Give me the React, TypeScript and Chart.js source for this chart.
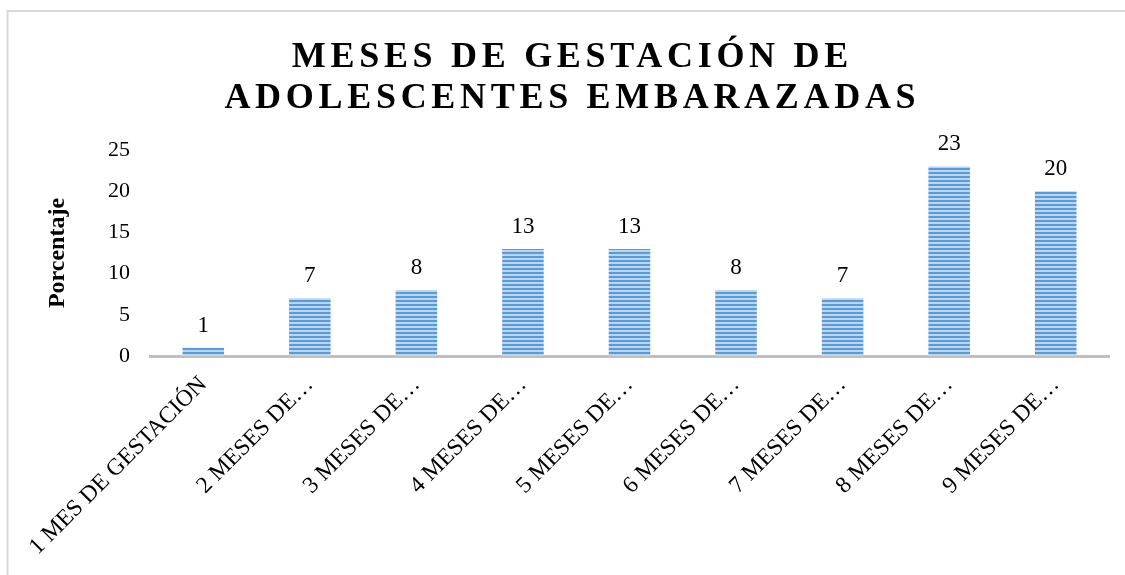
import React, { useEffect, useRef } from "react";
import { Chart, registerables } from "chart.js";

Chart.register(...registerables);

const categories: string[] = [
  "1 MES DE GESTACIÓN",
  "2 MESES DE…",
  "3 MESES DE…",
  "4 MESES DE…",
  "5 MESES DE…",
  "6 MESES DE…",
  "7 MESES DE…",
  "8 MESES DE…",
  "9 MESES DE…",
];
const percentages: number[] = [1, 7, 8, 13, 13, 8, 7, 23, 20];
const titleLines: string[] = ["MESES DE GESTACIÓN DE", "ADOLESCENTES EMBARAZADAS"];
const yAxisTitle = "Porcentaje";
const yMax = 25;
const yStep = 5;

const SERIF = '"Liberation Serif", "Times New Roman", serif';

function makeStripePattern(ctx: CanvasRenderingContext2D): CanvasPattern | string {
  const c = document.createElement("canvas");
  c.width = 4;
  c.height = 4;
  const p = c.getContext("2d");
  if (!p) return "#5b9bd5";
  p.fillStyle = "#bcd5ef";
  p.fillRect(0, 0, 4, 4);
  p.fillStyle = "#5b9bd5";
  p.fillRect(0, 0, 4, 2);
  return ctx.createPattern(c, "repeat") || "#5b9bd5";
}

const framePlugin = {
  id: "frame",
  beforeDraw(chart: any) {
    const ctx = chart.ctx as CanvasRenderingContext2D;
    ctx.save();
    ctx.fillStyle = "#ffffff";
    ctx.fillRect(0, 0, chart.width, chart.height);
    ctx.strokeStyle = "#d9d9d9";
    ctx.lineWidth = 2;
    ctx.beginPath();
    ctx.moveTo(7.5, chart.height);
    ctx.lineTo(7.5, 11);
    ctx.lineTo(chart.width, 11);
    ctx.stroke();
    ctx.restore();
  },
};

const titlePlugin = {
  id: "spacedTitle",
  afterDraw(chart: any) {
    const ctx = chart.ctx as CanvasRenderingContext2D;
    ctx.save();
    ctx.fillStyle = "#000000";
    ctx.font = `bold 36px ${SERIF}`;
    const spacing = 4.7;
    (ctx as any).letterSpacing = `${spacing}px`;
    ctx.textAlign = "center";
    ctx.textBaseline = "alphabetic";
    const cx = 570 + spacing / 2;
    const baselines = [67, 108];
    titleLines.forEach((line, i) => {
      ctx.fillText(line, cx, baselines[i]);
    });
    ctx.restore();
  },
};

const valueLabelPlugin = {
  id: "valueLabels",
  afterDatasetsDraw(chart: any) {
    const ctx = chart.ctx as CanvasRenderingContext2D;
    const meta = chart.getDatasetMeta(0);
    ctx.save();
    ctx.fillStyle = "#000000";
    ctx.font = `23px ${SERIF}`;
    ctx.textAlign = "center";
    ctx.textBaseline = "alphabetic";
    meta.data.forEach((bar: any, i: number) => {
      const v = chart.data.datasets[0].data[i];
      ctx.fillText(String(v), bar.x, bar.y - 16);
    });
    ctx.restore();
  },
};

export default function App() {
  const ref = useRef<HTMLCanvasElement | null>(null);

  useEffect(() => {
    const canvas = ref.current;
    if (!canvas) return;
    const ctx = canvas.getContext("2d");
    if (!ctx) return;
    const pattern = makeStripePattern(ctx);

    const chart = new Chart(canvas, {
      type: "bar",
      data: {
        labels: categories,
        datasets: [
          {
            data: percentages,
            backgroundColor: pattern as any,
            borderWidth: 0,
            categoryPercentage: 1,
            barPercentage: 0.39,
          },
        ],
      },
      options: {
        responsive: false,
        animation: false,
        layout: { padding: { top: 150, right: 16, left: 0, bottom: 0 } },
        plugins: {
          legend: { display: false },
          title: { display: false },
          tooltip: { enabled: false },
        },
        scales: {
          x: {
            grid: { display: false, drawTicks: false },
            border: { display: true, color: "#bfbfbf", width: 3 },
            ticks: {
              autoSkip: false,
              maxRotation: 45,
              minRotation: 45,
              padding: 15,
              color: "#000000",
              font: { family: SERIF, size: 23.5 },
            },
            afterFit(scale: any) {
              scale.height = 219;
            },
          },
          y: {
            min: 0,
            max: yMax,
            grid: { display: false, drawTicks: false },
            border: { display: false },
            ticks: {
              stepSize: yStep,
              padding: 20,
              color: "#000000",
              font: { family: SERIF, size: 22 },
            },
            title: {
              display: true,
              text: yAxisTitle,
              color: "#000000",
              font: { family: SERIF, size: 24, weight: "bold" },
              padding: { top: 43, bottom: 0 },
            },
            afterFit(scale: any) {
              scale.width = 150;
            },
          },
        },
      },
      plugins: [framePlugin, titlePlugin, valueLabelPlugin],
    });

    return () => {
      chart.destroy();
    };
  }, []);

  return (
    <div style={{ position: "absolute", left: 0, top: 0, width: 1125, height: 575 }}>
      <canvas ref={ref} width={1125} height={575} style={{ display: "block", width: 1125, height: 575 }} />
    </div>
  );
}
